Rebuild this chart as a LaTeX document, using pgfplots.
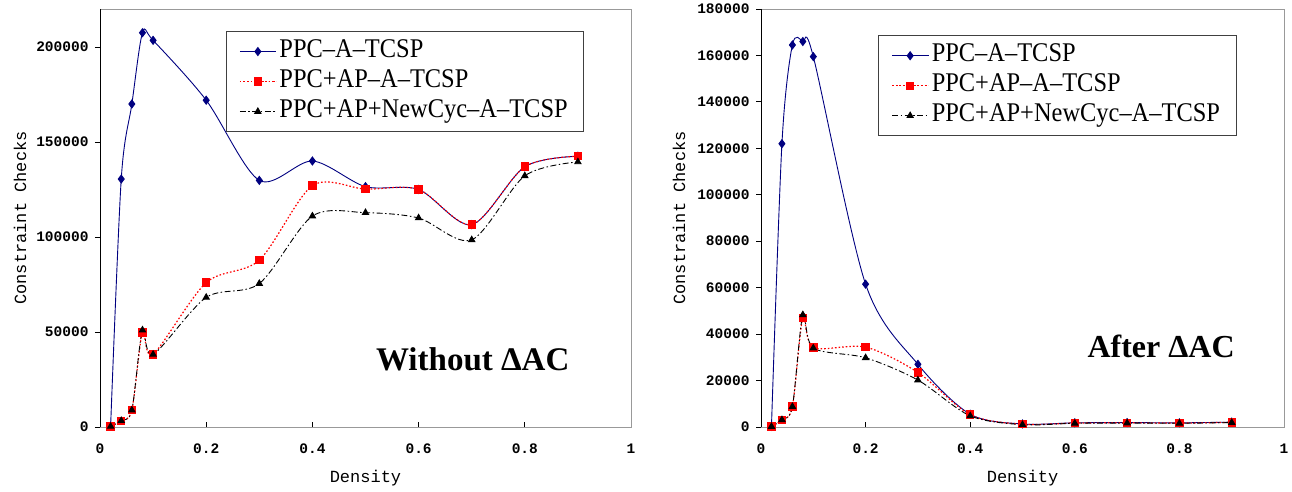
\documentclass[border=0pt]{standalone}
\usepackage{fontspec}
\setmainfont{Liberation Serif}
\setmonofont{Liberation Mono}
\newfontfamily\legfont[FakeStretch=0.905]{Liberation Serif}
\usepackage{pgfplots}
\pgfplotsset{compat=1.18}
\definecolor{ppcblue}{RGB}{0,0,128}
\pgfplotsset{
  mystyle/.style={
    scale only axis, height=418pt,
    xmin=0, xmax=1, ymin=0,
    xtick={0,0.2,0.4,0.6,0.8,1},
    xticklabels={0,0.2,0.4,0.6,0.8,1},
    axis line style={draw=black!40, line width=0.8pt},
    xtick pos=left, ytick pos=left,
    tick align=outside,
    major tick length=5pt,
    every tick/.style={black, line width=0.8pt},
    every major x tick/.append style={yshift=5pt},
    scaled y ticks=false,
    yticklabel style={/pgf/number format/fixed, /pgf/number format/1000 sep={}, xshift=-3pt},
    xticklabel style={yshift=-8pt},
    tick label style={font=\ttfamily\bfseries\fontsize{14.5}{14.5}\selectfont},
    /pgf/number format/assume math mode=true,
    every axis x label/.style={at={(rel axis cs:0.5,0)}, yshift=-51pt, anchor=center, font=\ttfamily\fontsize{17}{17}\selectfont},
    legend cell align=left,
    legend image code/.code={\draw[mark repeat=2,mark phase=2,##1] plot coordinates {(0pt,0pt) (18pt,0pt) (36pt,0pt)};},
    legend style={anchor=north west, draw=black!75, line width=0.8pt, inner xsep=13pt, inner ysep=5pt,
      font=\legfont\fontsize{27}{27}\selectfont,
      nodes={inner sep=3pt, text height=18pt, text depth=6pt}, row sep=0pt},
  },
  s1/.style={color=ppcblue, line width=0.9pt, smooth, mark=diamond*, mark size=4pt, mark options={solid, fill=ppcblue}},
  s2/.style={color=red, line width=1.2pt, smooth, dash pattern=on 1.6pt off 2pt, mark=square*, mark size=3.6pt, mark options={solid, fill=red}},
  s3/.style={color=black, line width=0.9pt, smooth, dash pattern=on 6pt off 2.5pt on 1.5pt off 2.5pt, mark=triangle*, mark size=3.6pt, mark options={solid, fill=black}},
}
\begin{document}
\begin{tikzpicture}
\path[use as bounding box] (0,0) rectangle (1292pt,492pt);
% ---------------- left ----------------
\begin{axis}[mystyle, at={(100pt,65pt)}, anchor=south west, width=531pt,
  ymax=220000, ytick={0,50000,100000,150000,200000},
  xlabel={Density}, ylabel={Constraint Checks},
  every axis y label/.style={at={(rel axis cs:0,0.5)}, xshift=-80pt, rotate=90, anchor=center, font=\ttfamily\fontsize{17}{17}\selectfont},
  legend style={at={(0.237,0.947)}}]
\addplot[s1] coordinates {(0.02,500) (0.04,130500) (0.06,170000) (0.08,207500) (0.1,203500) (0.2,172000) (0.3,129800) (0.4,140000) (0.5,126500) (0.6,125000) (0.7,106500) (0.8,137000) (0.9,142500)};
\addlegendentry{PPC–A–TCSP}
\addplot[s2] coordinates {(0.02,300) (0.04,3300) (0.06,8900) (0.08,49800) (0.1,38200) (0.2,76000) (0.3,87800) (0.4,127000) (0.5,125200) (0.6,125000) (0.7,106500) (0.8,137000) (0.9,142500)};
\addlegendentry{PPC+AP–A–TCSP}
\addplot[s3] coordinates {(0.02,300) (0.04,3300) (0.06,8900) (0.08,51000) (0.1,38200) (0.2,68200) (0.3,75500) (0.4,111000) (0.5,112800) (0.6,110000) (0.7,98500) (0.8,132200) (0.9,139500)};
\addlegendentry{PPC+AP+NewCyc–A–TCSP}
\draw[black, line width=0.9pt] (rel axis cs:0,1) -- (rel axis cs:0,0) -- (rel axis cs:1,0);
\node[font=\bfseries\fontsize{33}{33}\selectfont, anchor=center] at (axis cs:0.702,35800) {Without ΔAC};
\end{axis}
% ---------------- right ----------------
\begin{axis}[mystyle, at={(761pt,65pt)}, anchor=south west, width=523pt,
  ymax=180000, ytick={0,20000,40000,60000,80000,100000,120000,140000,160000,180000},
  xlabel={Density}, ylabel={Constraint Checks},
  every axis y label/.style={at={(rel axis cs:0,0.5)}, xshift=-82pt, rotate=90, anchor=center, font=\ttfamily\fontsize{17}{17}\selectfont},
  legend style={at={(0.224,0.937)}}]
\addplot[s1] coordinates {(0.02,300) (0.04,122000) (0.06,164500) (0.08,166000) (0.1,159500) (0.2,61500) (0.3,27000) (0.4,5500) (0.5,1300) (0.6,1800) (0.7,1900) (0.8,1800) (0.9,2100)};
\addlegendentry{PPC–A–TCSP}
\addplot[s2] coordinates {(0.02,200) (0.04,3100) (0.06,8800) (0.08,47000) (0.1,34200) (0.2,34400) (0.3,23500) (0.4,5300) (0.5,1200) (0.6,1700) (0.7,1800) (0.8,1700) (0.9,2000)};
\addlegendentry{PPC+AP–A–TCSP}
\addplot[s3] coordinates {(0.02,200) (0.04,3100) (0.06,8800) (0.08,48300) (0.1,34000) (0.2,29800) (0.3,20200) (0.4,4800) (0.5,1000) (0.6,1600) (0.7,1700) (0.8,1600) (0.9,1900)};
\addlegendentry{PPC+AP+NewCyc–A–TCSP}
\draw[black, line width=0.9pt] (rel axis cs:0,1) -- (rel axis cs:0,0) -- (rel axis cs:1,0);
\node[font=\bfseries\fontsize{32}{32}\selectfont, anchor=center] at (axis cs:0.765,34500) {After ΔAC};
\end{axis}
\end{tikzpicture}
\end{document}
